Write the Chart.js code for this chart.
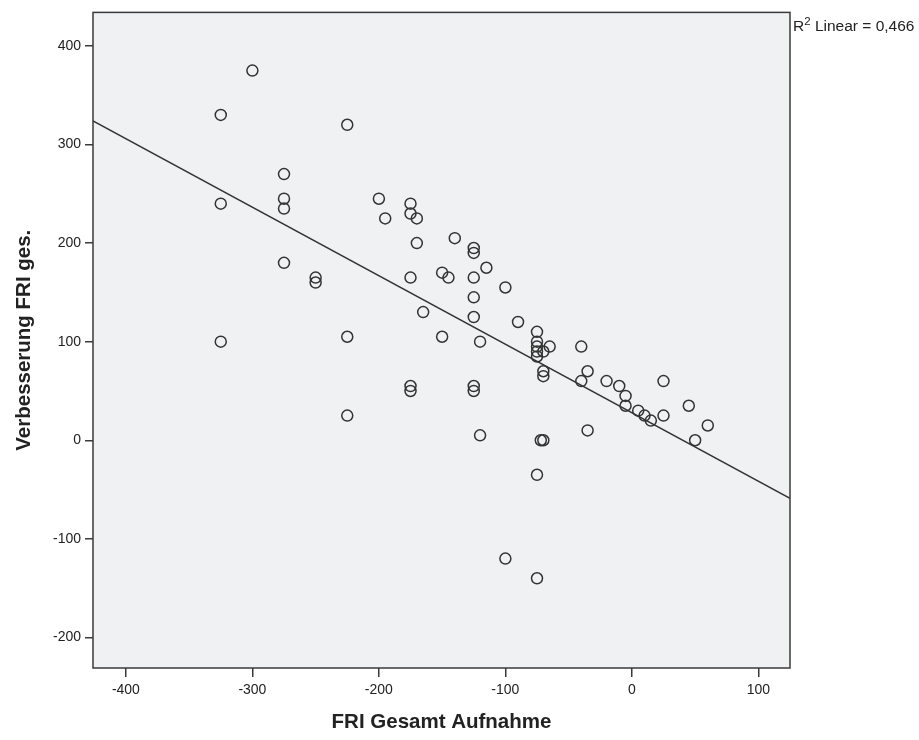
<!DOCTYPE html>
<html>
<head>
<meta charset="utf-8">
<script src="https://cdn.jsdelivr.net/npm/chart.js@4/dist/chart.umd.min.js"></script>
<style>
  html, body { margin: 0; padding: 0; background: #ffffff; }
  #wrap { width: 919px; height: 740px; }
</style>
</head>
<body>
<div id="wrap"><canvas id="c" width="919" height="740"></canvas></div>
<script>
// ---- Data ----
const xValues = [-300, -325, -225, -275, -275, -275, -325, -275, -250, -250,
                 -325, -225, -225, -200, -195, -175, -175, -170, -170, -175,
                 -165, -175, -175, -140, -150, -145, -150, -125, -125, -115,
                 -125, -125, -125, -120, -125, -125, -120, -100, -90, -75,
                 -75, -75, -75, -75, -70, -65, -70, -70, -70, -72,
                 -75, -100, -75, -40, -40, -35, -35, -20, -10, -5,
                 -5, 5, 10, 15, 25, 25, 45, 50, 60];
const yValues = [375, 330, 320, 270, 245, 235, 240, 180, 165, 160,
                 100, 105, 25, 245, 225, 240, 230, 225, 200, 165,
                 130, 55, 50, 205, 170, 165, 105, 195, 190, 175,
                 165, 145, 125, 100, 55, 50, 5, 155, 120, 110,
                 100, 95, 90, 85, 90, 95, 70, 65, 0, 0,
                 -35, -120, -140, 95, 60, 70, 10, 60, 55, 45,
                 35, 30, 25, 20, 60, 25, 35, 0, 15];
// Linear fit line endpoints
const fitX = [-426, 125];
const fitY = [324, -59];
const xTicks = [-400, -300, -200, -100, 0, 100];
const yTicks = [-200, -100, 0, 100, 200, 300, 400];
const xRange = [-426, 125];
const yRange = [-231, 434];
const xTitle = 'FRI Gesamt Aufnahme';
const yTitle = 'Verbesserung FRI ges.';
const r2Label = ['R', '2', ' Linear = 0,466'];

const FONT = "Arial, 'Liberation Sans', sans-serif";

const points = xValues.map((x, i) => ({ x: x, y: yValues[i] }));
const fitLine = fitX.map((x, i) => ({ x: x, y: fitY[i] }));

const plotBox = {
  id: 'plotBox',
  beforeDraw(chart) {
    const { ctx, chartArea: a } = chart;
    ctx.save();
    ctx.fillStyle = '#f0f1f2';
    ctx.fillRect(a.left, a.top, a.right - a.left, a.bottom - a.top);
    ctx.restore();
  },
  afterDraw(chart) {
    const { ctx, chartArea: a } = chart;
    ctx.save();
    ctx.strokeStyle = '#3a3a3a';
    ctx.lineWidth = 1.5;
    ctx.strokeRect(a.left, a.top, a.right - a.left, a.bottom - a.top);
    // R² label
    ctx.fillStyle = '#222';
    ctx.textBaseline = 'alphabetic';
    ctx.textAlign = 'left';
    let x = a.right + 3;
    const y = 31;
    ctx.font = '15.5px ' + FONT;
    ctx.fillText(r2Label[0], x, y);
    x += ctx.measureText(r2Label[0]).width;
    ctx.font = '11.5px ' + FONT;
    ctx.fillText(r2Label[1], x, y - 6);
    x += ctx.measureText(r2Label[1]).width;
    ctx.font = '15.5px ' + FONT;
    ctx.fillText(r2Label[2], x, y);
    ctx.restore();
  }
};

new Chart(document.getElementById('c'), {
  type: 'scatter',
  data: {
    datasets: [
      {
        type: 'line',
        data: fitLine,
        borderColor: '#333333',
        borderWidth: 1.5,
        pointRadius: 0,
        fill: false,
        tension: 0,
        order: 2
      },
      {
        data: points,
        pointStyle: 'circle',
        pointRadius: 5.5,
        pointBorderWidth: 1.5,
        pointBorderColor: '#333333',
        pointBackgroundColor: 'rgba(0,0,0,0)',
        order: 1
      }
    ]
  },
  plugins: [plotBox],
  options: {
    responsive: false,
    animation: false,
    devicePixelRatio: 1,
    layout: { padding: { left: 0, top: 12, right: 129, bottom: 0 } },
    plugins: { legend: { display: false }, tooltip: { enabled: false } },
    scales: {
      x: {
        type: 'linear',
        min: xRange[0],
        max: xRange[1],
        afterBuildTicks: (s) => { s.ticks = xTicks.map(v => ({ value: v })); },
        afterFit: (s) => { s.height = 72; },
        grid: { drawOnChartArea: false, drawTicks: true, tickLength: 9, color: '#3a3a3a', lineWidth: 1.5 },
        border: { display: false },
        ticks: { color: '#222', font: { family: FONT, size: 14 }, padding: 5, maxRotation: 0 },
        title: { display: true, text: xTitle, color: '#222', font: { family: FONT, size: 20.5, weight: 'bold' }, padding: { top: 0, bottom: 5 } }
      },
      y: {
        type: 'linear',
        min: yRange[0],
        max: yRange[1],
        afterBuildTicks: (s) => { s.ticks = yTicks.map(v => ({ value: v })); },
        afterFit: (s) => { s.width = 93; },
        grid: { drawOnChartArea: false, drawTicks: true, tickLength: 8, color: '#3a3a3a', lineWidth: 1.5 },
        border: { display: false },
        ticks: { color: '#222', font: { family: FONT, size: 14 }, padding: 4 },
        title: { display: true, text: yTitle, color: '#222', font: { family: FONT, size: 20.5, weight: 'bold' }, padding: { top: 12, bottom: 0 } }
      }
    }
  }
});
</script>
</body>
</html>
